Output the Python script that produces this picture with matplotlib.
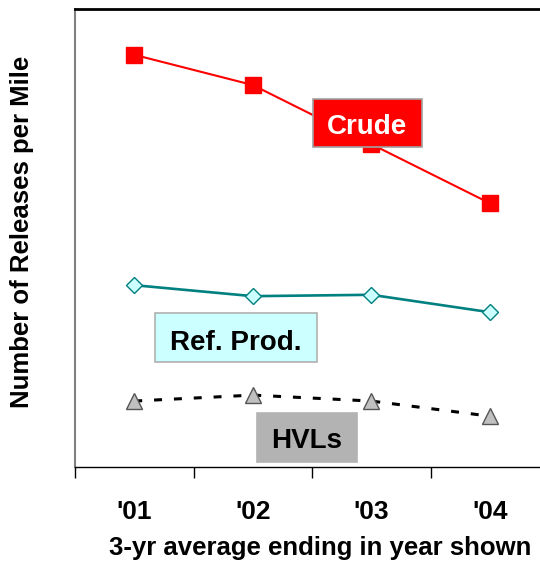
import numpy as np
import matplotlib.pyplot as plt
from matplotlib.patches import Rectangle
from matplotlib.ticker import FixedLocator

plt.rcParams['font.family'] = ['Liberation Sans', 'DejaVu Sans']

years = ["'01", "'02", "'03", "'04"]
crude = [0.900, 0.834, 0.705, 0.576]
ref_prod = [0.397, 0.373, 0.376, 0.338]
hvls = [0.144, 0.157, 0.144, 0.111]

W, H = 540, 565
fig = plt.figure(figsize=(W / 100, H / 100), dpi=100)
ax = fig.add_axes([75 / W, 98 / H, 474 / W, 458 / H])

x = np.arange(len(years))
ax.plot(x, crude, color='#FF0000', lw=1.5, marker='s', ms=11.5,
        mfc='#FF0000', mec='#FF0000', zorder=3)
ax.plot(x, ref_prod, color='#008080', lw=1.9, marker='D', ms=8.4,
        mfc='#CCFFFF', mec='#008080', mew=1, zorder=3)
ax.plot(x, hvls, color='black', lw=2.2, ls=(0, (2.6, 3.9)), marker='^', ms=11,
        mfc='#C0C0C0', mec='#555555', mew=1, zorder=3)

ax.set_xlim(-0.5, 3.5)
ax.set_ylim(0, 1)
ax.set_yticks([])
ax.set_xticks(x)
ax.set_xticklabels(years, fontsize=19, fontweight='bold')
ax.xaxis.set_minor_locator(FixedLocator([-0.5, 0.5, 1.5, 2.5]))
ax.tick_params(axis='x', which='major', length=0, pad=24)
ax.tick_params(axis='x', which='minor', length=8, width=1, direction='out')

ax.spines['right'].set_visible(False)
ax.spines['left'].set_color('#808080')
ax.spines['left'].set_linewidth(1.5)
ax.spines['top'].set_linewidth(2)
ax.spines['bottom'].set_linewidth(1)

# axis titles
fig.text(320 / W, 1 - 555 / H, '3-yr average ending in year shown', ha='center',
         va='baseline', fontsize=18.5, fontweight='bold')
fig.text(22 / W, 1 - 232 / H, 'Number of Releases per Mile', ha='center',
         va='center', rotation=90, fontsize=18.5, fontweight='bold')

# labelled boxes for each series (pixel extents converted to axes fractions)
def px_box(x0, x1, y0, y1, fc, ec):
    ax.add_patch(Rectangle(((x0 - 75) / 474, (467 - y1) / 458),
                           (x1 - x0) / 474, (y1 - y0) / 458,
                           transform=ax.transAxes, fc=fc, ec=ec, lw=1.2,
                           zorder=4, clip_on=False))

def px_text(cx, base, s, color):
    ax.text((cx - 75) / 474, (467 - base) / 458, s, transform=ax.transAxes,
            ha='center', va='baseline', fontsize=20, fontweight='bold',
            color=color, zorder=5)

px_box(313, 422, 99, 147, '#FF0000', '#A0A0A0')
px_text(367.5, 134, 'Crude', 'white')
px_box(155, 317, 313, 362, '#CCFFFF', '#B0B0B0')
px_text(236, 350, 'Ref. Prod.', 'black')
px_box(257, 357, 413, 462, '#B3B3B3', '#B3B3B3')
px_text(307, 448, 'HVLs', 'black')

fig.savefig('out.png', dpi=100)
